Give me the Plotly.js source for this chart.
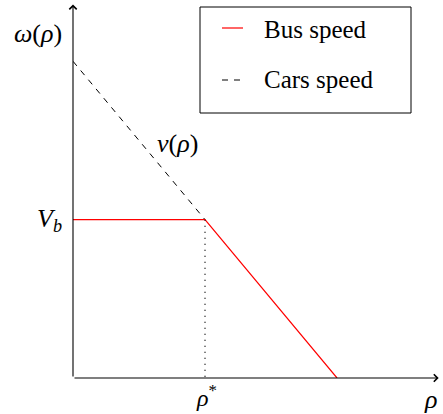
<!DOCTYPE html>
<html>
<head>
<meta charset="utf-8">
<script src="https://cdn.plot.ly/plotly-3.0.1.min.js"></script>
<style>
  html, body { margin: 0; padding: 0; background: #fff; }
  #fig { width: 443px; height: 414px; }
</style>
</head>
<body>
<div id="fig"></div>
<script>
/* bus speed vs cars speed as a function of density */

const busRho = [0, 0.5, 1];       // density
const busSpeed = [0.5, 0.5, 0];   // omega(rho)
const carsRho = [0, 0.5];
const carsSpeed = [1, 0.5];       // v(rho), dashed part
const rhoStar = 0.5;
const Vb = 0.5;
const legendNames = ['Bus speed', 'Cars speed'];
const xMax = 1.385, yMax = 1.179; // arrow tips of the axes

const serif = "'Liberation Serif', 'Times New Roman', serif";
const red = '#ff0000';
const dashed = '6px,6px';

let series = [];
series.push({x: carsRho, y: carsSpeed, mode: 'lines', name: legendNames[1],
             showlegend: false, line: {color: '#000', width: 1, dash: dashed}});
series.push({x: busRho, y: busSpeed, mode: 'lines', name: legendNames[0],
             showlegend: false, line: {color: red, width: 1.2}});
// dotted guide at rho*
series.push({x: [rhoStar, rhoStar], y: [Vb, 0], mode: 'lines',
             showlegend: false, hoverinfo: 'skip',
             line: {color: '#000', width: 1.3, dash: '1px,5px'}});

function axisArrow (x0, y0, x1, y1) {
  return {x: x1, y: y1, ax: x0, ay: y0, xref: 'x', yref: 'y',
          axref: 'x', ayref: 'y', text: '', showarrow: true,
          arrowhead: 4, arrowsize: 1.3, arrowwidth: 1.1, arrowcolor: '#000'};
}

function label (txt, x, y, opts) {
  return Object.assign({x: x, y: y, xref: 'x', yref: 'y', text: txt,
          showarrow: false, yanchor: 'middle',
          font: {family: serif, size: 26, color: '#000'}}, opts);
}

// legend box drawn by hand (pixel -> paper helpers)
const px = (v) => (v - 73) / 367;
const py = (v) => (378 - v) / 375;

let shapes = [
  {type: 'rect', xref: 'paper', yref: 'paper', x0: px(200), x1: px(411),
   y0: py(113), y1: py(7), line: {color: '#000', width: 1}, fillcolor: '#fff'},
  {type: 'line', xref: 'paper', yref: 'paper', x0: px(222), x1: px(243),
   y0: py(28), y1: py(28), line: {color: red, width: 1.2}},
  {type: 'line', xref: 'paper', yref: 'paper', x0: px(222), x1: px(243),
   y0: py(80), y1: py(80), line: {color: '#000', width: 1, dash: dashed}}
];

const legendFont = {family: serif, size: 25, color: '#000'};

let layout = {
  width: 443, height: 414,
  margin: {l: 73, r: 3, t: 3, b: 36},
  paper_bgcolor: '#fff', plot_bgcolor: '#fff',
  xaxis: {range: [0, xMax + 0.005], showgrid: false, zeroline: false,
          showline: false, showticklabels: false, ticks: ''},
  yaxis: {range: [0, yMax + 0.005], showgrid: false, zeroline: false,
          showline: false, showticklabels: false, ticks: ''},
  showlegend: false,
  shapes: shapes,
  annotations: [
    axisArrow(0, 0, xMax, 0),
    axisArrow(0, 0, 0, yMax),
    label('<i>ω</i>(<i>ρ</i>)', 0, 1.088, {xanchor: 'right', xshift: -9}),
    label('<i>V<sub>b</sub></i>', 0, Vb, {xanchor: 'right', xshift: -9}),
    label('<i>v</i>(<i>ρ</i>)', 0.396, 0.739, {}),
    label('<i>ρ</i><sup>*</sup>', rhoStar, 0, {yanchor: 'bottom', yshift: -35,
          xshift: 1, font: {family: serif, size: 24, color: '#000'}}),
    label('<i>ρ</i>', 1.355, 0, {yanchor: 'top', yshift: -5}),
    label(legendNames[0], px(262), py(29), {xref: 'paper', yref: 'paper',
          xanchor: 'left', font: legendFont}),
    label(legendNames[1], px(262), py(79), {xref: 'paper', yref: 'paper',
          xanchor: 'left', font: legendFont})
  ]
};

Plotly.newPlot('fig', series, layout, {staticPlot: true, displayModeBar: false});
</script>
</body>
</html>
